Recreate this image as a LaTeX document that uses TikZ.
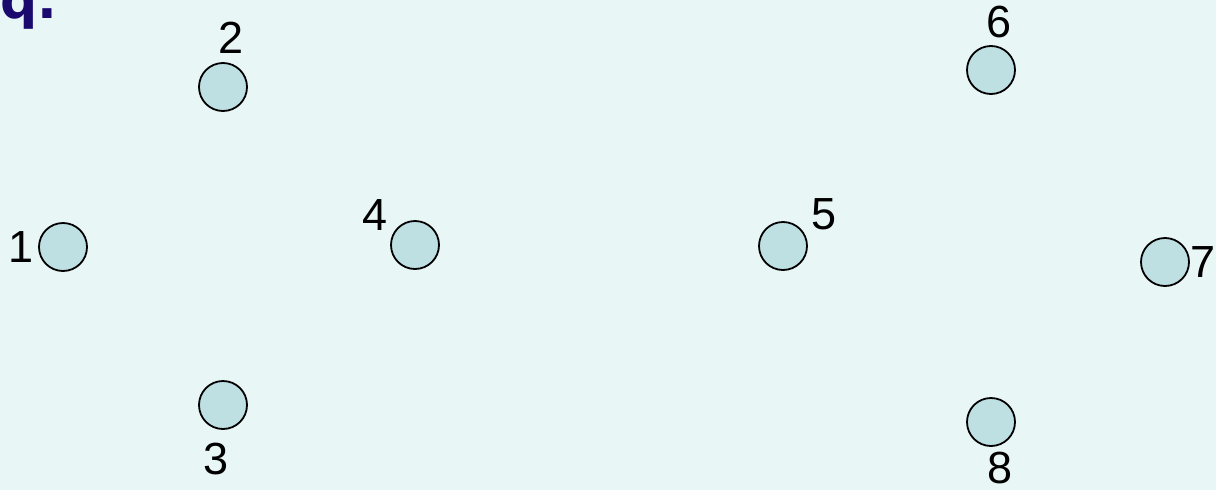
\documentclass[tikz,border=0pt]{standalone}
\usepackage{fontspec}
\setmainfont{Liberation Sans}
\newfontfamily\headfont{DejaVu Sans}
\definecolor{bgc}{HTML}{E9F6F6}
\definecolor{dotc}{HTML}{BEE0E3}
\definecolor{navy}{HTML}{1A0A6E}
\begin{document}
\begin{tikzpicture}[x=1pt,y=-1pt,
  vert/.style={circle,draw=black,line width=1.8pt,fill=dotc,minimum size=48pt,inner sep=0pt},
  lab/.style={inner sep=0pt,font=\fontsize{45}{45}\selectfont}]
\fill[bgc] (0,0) rectangle (1216,490);
\useasboundingbox (0,0) rectangle (1216,490);
\begin{scope}
\clip (0,0) rectangle (1216,490);
\node[anchor=base west,inner sep=0pt,text=navy,font=\headfont\bfseries\fontsize{52}{52}\selectfont] (head) at (0,18) {q.};
\end{scope}
\node[vert] (v1) at (63,247) {};
\node[vert] (v2) at (223,87) {};
\node[vert] (v3) at (223,405) {};
\node[vert] (v4) at (415,245) {};
\node[vert] (v5) at (783,246) {};
\node[vert] (v6) at (991,70) {};
\node[vert] (v7) at (1165,262) {};
\node[vert] (v8) at (991,422) {};
\node[lab] (l1) at (21,247) {1};
\node[lab] (l2) at (231,38) {2};
\node[lab] (l3) at (216,459) {3};
\node[lab] (l4) at (375,215) {4};
\node[lab] (l5) at (824,214) {5};
\node[lab] (l6) at (999,22) {6};
\node[lab] (l7) at (1203,262) {7};
\node[lab] (l8) at (1000,468) {8};
\end{tikzpicture}
\end{document}
